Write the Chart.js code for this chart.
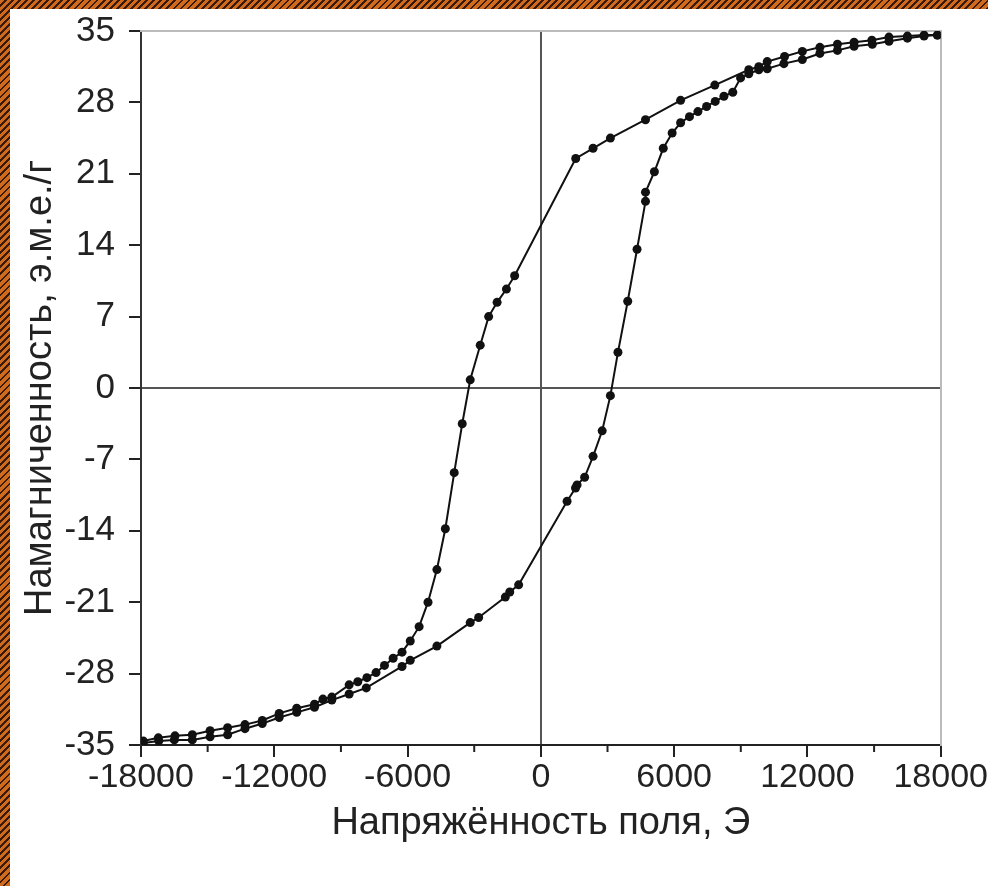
<!DOCTYPE html>
<html>
<head>
<meta charset="utf-8">
<script src="https://cdn.jsdelivr.net/npm/chart.js@4.4.0/dist/chart.umd.min.js"></script>
<style>
  html, body { margin: 0; padding: 0; }
  body {
    width: 988px; height: 886px; overflow: hidden; position: relative;
    background: repeating-linear-gradient(135deg, #d06a1c 0px, #d06a1c 3px, #3a1a06 3px, #3a1a06 5px);
  }
  #wrap { position: absolute; left: 10px; top: 9px; width: 978px; height: 877px; background: #fff; }
</style>
</head>
<body>
<div id="wrap"><canvas id="chart" width="978" height="877"></canvas></div>
<script>
// descending branch (from +H down to -H)
const descField = [17850, 17250, 16500, 15670, 14900, 14100, 13350, 12560, 11770, 10970,
  10190, 9810, 9360, 7830, 6290, 4710, 3130, 2350, 1570, -1180,
  -1550, -1970, -2350, -2730, -3180, -3540, -3900, -4300, -4680, -5080,
  -5480, -5880, -6250, -6650, -7040, -7420, -7830, -8240, -8630, -9410,
  -9810, -10190, -10990, -11780, -12540, -13320, -14100, -14890, -15690, -16470,
  -17220, -17900];
const descMag = [34.6, 34.6, 34.5, 34.4, 34.1, 33.9, 33.7, 33.4, 33.0, 32.5,
  32.0, 31.5, 31.2, 29.7, 28.2, 26.3, 24.5, 23.5, 22.5, 11.0,
  9.7, 8.4, 7.0, 4.2, 0.8, -3.5, -8.3, -13.8, -17.8, -21.0,
  -23.4, -24.8, -25.9, -26.5, -27.2, -27.9, -28.4, -28.8, -29.1, -30.3,
  -30.5, -31.0, -31.4, -31.9, -32.6, -33.0, -33.3, -33.6, -34.0, -34.1,
  -34.3, -34.6];

// ascending branch (from -H up to +H)
const ascField = [-17900, -17200, -16500, -15690, -14890, -14100, -13320, -12540, -11780, -10990,
  -10190, -9410, -8630, -7860, -6250, -5880, -4680, -3180, -2800, -1600,
  -1400, -1000, 1180, 1560, 1630, 1970, 2350, 2760, 3130, 3470,
  3910, 4330, 4710, 4710, 5110, 5510, 5910, 6290, 6690, 7070,
  7460, 7850, 8240, 8640, 8990, 9360, 9810, 10190, 10940, 11770,
  12560, 13350, 14100, 14920, 15670, 16500, 17250, 17850];
const ascMag = [-34.8, -34.6, -34.5, -34.5, -34.2, -34.0, -33.4, -32.9, -32.3, -31.8,
  -31.3, -30.6, -30.0, -29.4, -27.3, -26.7, -25.3, -23.0, -22.5, -20.5,
  -20.0, -19.3, -11.1, -9.8, -9.5, -8.75, -6.7, -4.2, -0.75, 3.5,
  8.5, 13.6, 18.3, 19.2, 21.2, 23.5, 25.0, 26.0, 26.6, 27.1,
  27.6, 28.1, 28.6, 29.0, 30.4, 30.8, 31.2, 31.3, 31.8, 32.2,
  32.8, 33.1, 33.5, 33.7, 34.0, 34.3, 34.5, 34.6];

const minorX = [-15000, -9000, -3000, 3000, 9000, 15000];

const toPoints = (xs, ys) => xs.map((x, i) => ({ x: x, y: ys[i] }));

const fontFamily = "'Liberation Sans', Arial, sans-serif";
const zeroLine = (c) => (c.tick && c.tick.value === 0 ? "#555" : "rgba(0,0,0,0)");

const minorTicks = {
  id: "minorTicks",
  afterDraw(chart) {
    const scale = chart.scales.x;
    const ctx = chart.ctx;
    ctx.save();
    ctx.strokeStyle = "#222";
    ctx.lineWidth = 2;
    minorX.forEach((v) => {
      const px = scale.getPixelForValue(v);
      ctx.beginPath();
      ctx.moveTo(px, scale.top);
      ctx.lineTo(px, scale.top + 7);
      ctx.stroke();
    });
    ctx.restore();
  },
};

const lineStyle = {
  showLine: true,
  borderColor: "#111",
  borderWidth: 2,
  pointRadius: 4.5,
  pointBackgroundColor: "#111",
  pointBorderWidth: 0,
  tension: 0,
};

new Chart(document.getElementById("chart"), {
  type: "scatter",
  plugins: [minorTicks],
  data: {
    datasets: [
      Object.assign({ label: "desc", data: toPoints(descField, descMag) }, lineStyle),
      Object.assign({ label: "asc", data: toPoints(ascField, ascMag) }, lineStyle),
    ],
  },
  options: {
    responsive: false,
    animation: false,
    layout: { padding: { left: 0, top: 22, right: 46, bottom: 0 } },
    plugins: { legend: { display: false }, tooltip: { enabled: false } },
    scales: {
      x: {
        type: "linear",
        position: "bottom",
        min: -18000,
        max: 18000,
        afterFit: (s) => { s.height = 141; },
        ticks: {
          stepSize: 6000,
          autoSkip: false,
          maxRotation: 0,
          padding: 0,
          color: "#222",
          font: { family: fontFamily, size: 34 },
          callback: (v) => String(v),
        },
        grid: { color: zeroLine, lineWidth: 2, tickLength: 12, tickColor: "#222", tickWidth: 2 },
        border: { color: "#222", width: 2 },
        title: {
          display: true,
          text: "Напряжённость поля, Э",
          color: "#222",
          font: { family: fontFamily, size: 38 },
          padding: { top: 0, bottom: 40 },
        },
      },
      y: {
        type: "linear",
        position: "left",
        min: -35,
        max: 35,
        afterFit: (s) => { s.width = 131; },
        ticks: {
          stepSize: 7,
          padding: 14,
          color: "#222",
          font: { family: fontFamily, size: 35, lineHeight: 0.3 },
          callback: (v) => String(v),
        },
        grid: { color: zeroLine, lineWidth: 2, tickLength: 12, tickColor: "#222", tickWidth: 2 },
        border: { color: "#333", width: 2 },
        title: {
          display: true,
          text: "Намагниченность, э.м.е./г",
          color: "#222",
          font: { family: fontFamily, size: 38 },
          padding: { top: 8, bottom: 0 },
        },
      },
      x2: {
        type: "linear",
        position: "top",
        min: -18000,
        max: 18000,
        afterFit: (s) => { s.height = 0; },
        ticks: { display: false },
        grid: { display: false },
        border: { color: "#bbb", width: 2 },
      },
      y2: {
        type: "linear",
        position: "right",
        min: -35,
        max: 35,
        afterFit: (s) => { s.width = 0; },
        ticks: { display: false },
        grid: { display: false },
        border: { color: "#bbb", width: 2 },
      },
    },
  },
});
</script>
</body>
</html>
